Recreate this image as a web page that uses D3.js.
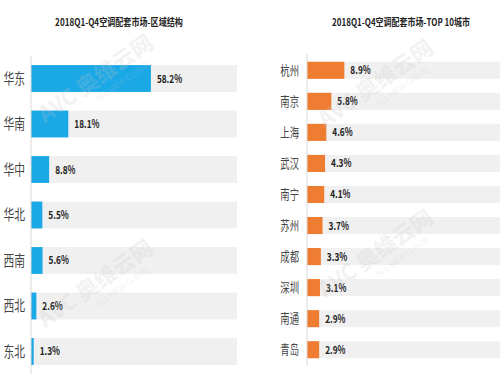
<!DOCTYPE html>
<html>
<head>
<meta charset="utf-8">
<script src="https://cdnjs.cloudflare.com/ajax/libs/d3/7.8.5/d3.min.js"></script>
<style>
  body { margin: 0; background: #fff; }
  svg { display: block; }
  text { font-family: "Noto Sans CJK SC", "Noto Sans", sans-serif; }
</style>
</head>
<body>
<div id="chart"></div>
<script>
// region share, 2018 Q1-Q4
var regions = ["华东", "华南", "华中", "华北", "西南", "西北", "东北"];
var regionValues = [58.2, 18.1, 8.8, 5.5, 5.6, 2.6, 1.3];

// top 10 cities
var cities = ["杭州", "南京", "上海", "武汉", "南宁", "苏州", "成都", "深圳", "南通", "青岛"];
var cityValues = [8.9, 5.8, 4.6, 4.3, 4.1, 3.7, 3.3, 3.1, 2.9, 2.9];

var titleLeft = "2018Q1-Q4空调配套市场-区域结构";
var titleRight = "2018Q1-Q4空调配套市场-TOP 10城市";

var svg = d3.select("#chart").append("svg")
    .attr("width", 500)
    .attr("height", 375);

function drawPanel(opts){
    var x = d3.scaleLinear().domain([0, opts.max]).range([opts.x0, opts.x1]);
    var y = d3.scaleBand().domain(opts.cats).range([opts.y0, opts.y1])
        .paddingInner(opts.padIn).paddingOuter(opts.padOut);

    // title squeezed horizontally to the source width
    var title = svg.append("text")
        .attr("text-anchor", "middle")
        .attr("font-size", 10).attr("font-weight", "bold")
        .attr("fill", "#222")
        .text(opts.title);
    var k = Math.min(1, opts.titleLen / title.node().getComputedTextLength());
    title.attr("transform", `translate(${opts.titleX},26) scale(${k},1)`);

    var g = svg.append("g");

    // gray tracks
    g.selectAll(".track").data(opts.cats).enter().append("rect")
        .attr("x", x(0))
        .attr("y", d => y(d))
        .attr("width", opts.x1 - x(0))
        .attr("height", y.bandwidth())
        .attr("fill", "#f0f0f0");

    g.selectAll(".bar").data(opts.vals).enter().append("rect")
        .attr("x", x(0))
        .attr("y", (d, i) => y(opts.cats[i]))
        .attr("width", d => x(d) - x(0))
        .attr("height", y.bandwidth())
        .attr("fill", opts.color);

    // axis line
    g.append("line")
        .attr("x1", x(0)).attr("x2", x(0))
        .attr("y1", opts.y0).attr("y2", opts.y1)
        .attr("stroke", "#d9d9d9").attr("stroke-width", 1);

    // category labels (squeezed like the source)
    g.selectAll(".cat").data(opts.cats).enter().append("text")
        .attr("transform", d => `translate(${x(0) - opts.labelGap},${y(d) + y.bandwidth() / 2 + opts.catSize * 0.36}) scale(0.72,1)`)
        .attr("text-anchor", "end")
        .attr("font-size", opts.catSize)
        .attr("fill", "#444")
        .text(d => d);

    g.selectAll(".val").data(opts.vals).enter().append("text")
        .attr("transform", (d, i) => `translate(${x(d) + 6},${y(opts.cats[i]) + y.bandwidth() / 2 + 4}) scale(0.75,1)`)
        .attr("font-size", 11).attr("font-weight", "bold")
        .attr("fill", "#222")
        .text(d => d.toFixed(1) + "%");
}

drawPanel({
    cats: regions, vals: regionValues, title: titleLeft,
    titleX: 119, titleLen: 128,
    max: 100, x0: 31, x1: 237,
    y0: 56, y1: 374, padIn: 0.41, padOut: 0.2,
    color: "#1aa8e6", catSize: 15, labelGap: 6
});

drawPanel({
    cats: cities, vals: cityValues, title: titleRight,
    titleX: 401, titleLen: 138,
    max: 46, x0: 307, x1: 500,
    y0: 54, y1: 366, padIn: 0.45, padOut: 0.25,
    color: "#ee7d31", catSize: 13, labelGap: 8
});

// faint watermarks laid over the chart
var marks = [[100, 85], [100, 290], [380, 90], [380, 260]];
marks.forEach(function(m){
    var g = svg.append("g")
        .attr("transform", `translate(${m[0]},${m[1]}) rotate(-35)`)
        .attr("fill", "#c8c8c8").attr("opacity", 0.22)
        .style("pointer-events", "none");
    g.append("text").attr("text-anchor", "middle").attr("font-size", 22)
        .attr("font-weight", "bold").text("AVC 奥维云网");
    g.append("text").attr("text-anchor", "middle").attr("y", 13)
        .attr("font-size", 8).attr("x", 20).text("ALL VIEW CLOUD");
});
</script>
</body>
</html>
